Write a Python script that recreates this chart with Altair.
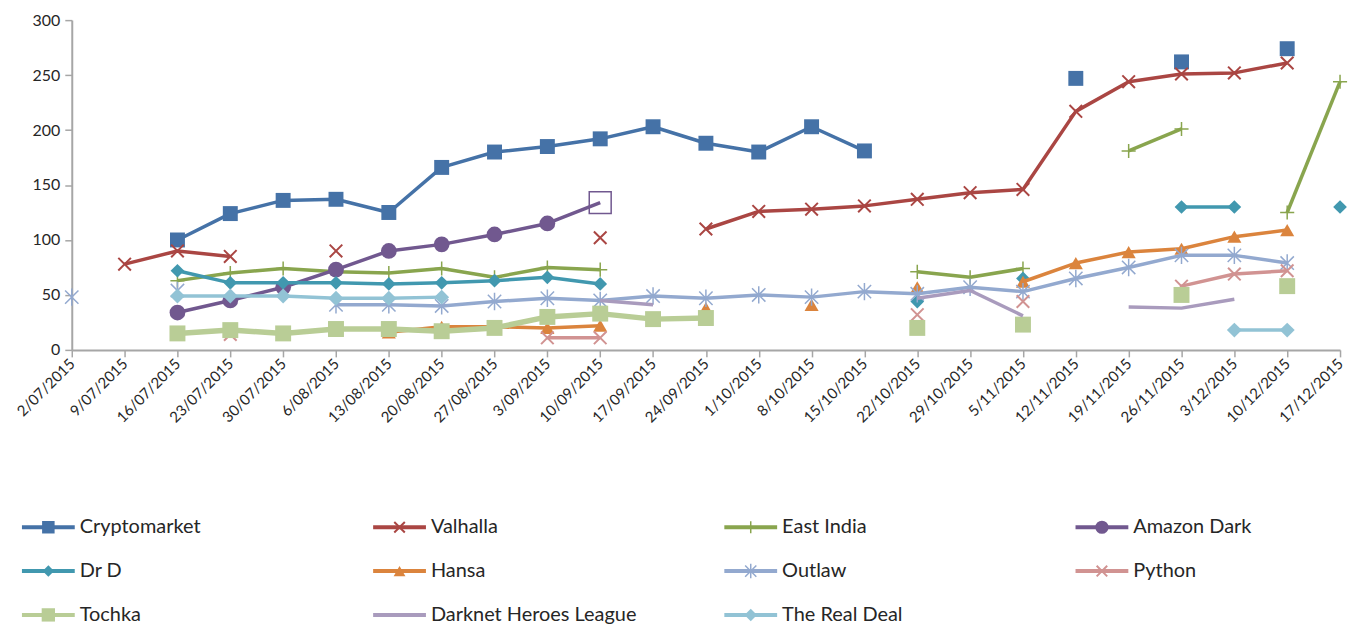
import altair as alt
import pandas as pd

N = None
DATES = ["2/07/2015", "9/07/2015", "16/07/2015", "23/07/2015", "30/07/2015", "6/08/2015",
         "13/08/2015", "20/08/2015", "27/08/2015", "3/09/2015", "10/09/2015", "17/09/2015",
         "24/09/2015", "1/10/2015", "8/10/2015", "15/10/2015", "22/10/2015", "29/10/2015",
         "5/11/2015", "12/11/2015", "19/11/2015", "26/11/2015", "3/12/2015", "10/12/2015",
         "17/12/2015"]

SERIES = ["Cryptomarket", "Valhalla", "East India", "Amazon Dark", "Dr D", "Hansa",
          "Outlaw", "Python", "Tochka", "Darknet Heroes League", "The Real Deal"]
COLORS = ["#4572A7", "#AA4643", "#89A54E", "#71588F", "#4198AF", "#DB843D",
          "#93A9CF", "#D19392", "#B9CD96", "#A99BBD", "#92C3D5"]

CRYPTOMARKET = [N, N, 100, 124, 136, 137, 125, 166, 180, 185, 192, 203, 188, 180, 203, 181,
                N, N, N, 247, N, 262, N, 274, N]
VALHALLA = [N, 78, 90, 85, N, 90, N, N, N, N, 102, N, 110, 126, 128, 131, 137, 143, 146,
            217, 244, 251, 252, 261, N]
EAST_INDIA = [N, N, 63, 70, 74, 71, 70, 74, 66, 75, 73, N, N, N, N, N, 71, 66, 74, N,
              181, 201, N, 125, 244]
AMAZON_DARK = [N, N, 34, 45, 57, 73, 90, 96, 105, 115, 134, N, N, N, N, N, N, N, N, N,
               N, N, N, N, N]
DR_D = [N, N, 72, 61, 61, 61, 60, 61, 63, 66, 60, N, N, N, N, N, 44, N, 65, N, N, 130,
        130, N, 130]
HANSA = [N, N, N, N, N, N, 16, 21, 21, 20, 22, N, 38, N, 41, N, 57, N, 62, 79, 89, 92,
         103, 109, N]
OUTLAW = [48, N, 54, N, N, 41, 41, 40, 44, 47, 45, 49, 47, 50, 48, 53, 51, 57, 53, 65,
          75, 86, 86, 79, N]
PYTHON = [N, N, N, 14, N, N, N, N, N, 11, 11, N, N, N, N, N, 32, N, 44, N, N, 58, 69,
          72, N]
TOCHKA = [N, N, 15, 18, 15, 19, 19, 17, 20, 30, 33, 28, 29, N, N, N, 20, N, 23, N, N,
          50, N, 58, N]
DARKNET = [N, N, N, N, N, N, N, N, N, N, 45, 41, N, N, N, N, 47, 54, 31, N, 39, 38, 46,
           N, N]
REAL_DEAL = [N, N, 49, 49, 49, 47, 47, 48, N, N, N, N, N, N, N, N, N, N, N, N, N, N, 18,
             18, N]
OPEN_MARK_DATE = "10/09/2015"  # Amazon Dark's last point is drawn as an open square

VALUES = dict(zip(SERIES, [CRYPTOMARKET, VALHALLA, EAST_INDIA, AMAZON_DARK, DR_D, HANSA,
                           OUTLAW, PYTHON, TOCHKA, DARKNET, REAL_DEAL]))

X_PATH = "M-1,-1L1,1M-1,1L1,-1"
PLUS_PATH = "M-1,0L1,0M0,-1L0,1"
AST_PATH = "M-1,-1L1,1M-1,1L1,-1M0,-1.3L0,1.3"

STYLE = {
    "Cryptomarket": dict(lw=3.5, shape="square", filled=True, size=225, sw=1, llw=4),
    "Valhalla": dict(lw=3.5, shape=X_PATH, filled=False, size=160, sw=2, llw=4),
    "East India": dict(lw=3.5, shape=PLUS_PATH, filled=False, size=200, sw=1.5, llw=4),
    "Amazon Dark": dict(lw=3.5, shape="circle", filled=True, size=250, sw=1, llw=4),
    "Dr D": dict(lw=3.5, shape="diamond", filled=True, size=190, sw=1, llw=4),
    "Hansa": dict(lw=3.5, shape="triangle-up", filled=True, size=200, sw=1, llw=4),
    "Outlaw": dict(lw=3.5, shape=AST_PATH, filled=False, size=180, sw=1.5, llw=4),
    "Python": dict(lw=3.5, shape=X_PATH, filled=False, size=160, sw=2, llw=4),
    "Tochka": dict(lw=5.5, shape="square", filled=True, size=256, sw=1, llw=6),
    "Darknet Heroes League": dict(lw=3.5, shape=None, filled=False, size=0, sw=0, llw=4),
    "The Real Deal": dict(lw=3.5, shape="diamond", filled=True, size=225, sw=1, llw=4),
}

rows = []
for name in SERIES:
    seg, prev = 0, None
    for d, v in zip(DATES, VALUES[name]):
        if v is None:
            if prev is not None:
                seg += 1
            prev = None
            continue
        rows.append({"series": name, "date": d, "value": v, "seg": f"{name}-{seg}"})
        prev = v
df = pd.DataFrame(rows)

FONT = "Lato"
TXT = "#262626"

x = alt.X("date:O", scale=alt.Scale(type="point", domain=DATES, padding=0),
          axis=alt.Axis(title=None, labelAngle=-45, labelAlign="right", labelBaseline="middle",
                        labelFontSize=15, labelPadding=4, tickSize=7, labelOverlap=False))
y = alt.Y("value:Q", scale=alt.Scale(domain=[0, 300], nice=False),
          axis=alt.Axis(title=None, values=[0, 50, 100, 150, 200, 250, 300], tickSize=7,
                        labelFontSize=16, labelPadding=5))
color = alt.Color("series:N", scale=alt.Scale(domain=SERIES, range=COLORS), legend=None)

main_layers = []
for name in SERIES:
    st = STYLE[name]
    base = alt.Chart().transform_filter(alt.datum.series == name)
    main_layers.append(base.mark_line(strokeWidth=st["lw"], strokeJoin="round")
                       .encode(x=x, y=y, color=color, detail="seg:N"))
    if st["shape"]:
        pts = base
        if name == "Amazon Dark":
            pts = base.transform_filter(alt.datum.date != OPEN_MARK_DATE)
        main_layers.append(pts.mark_point(shape=st["shape"], filled=st["filled"], size=st["size"],
                                          strokeWidth=st["sw"], opacity=1)
                           .encode(x=x, y=y, color=color))
    if name == "Amazon Dark":
        main_layers.append(base.transform_filter(alt.datum.date == OPEN_MARK_DATE)
                           .mark_point(shape="square", filled=False, size=484, strokeWidth=1.5,
                                       opacity=1)
                           .encode(x=x, y=y, color=color))

main = alt.layer(*main_layers, data=df)

# ---- legend (3 rows x 4 columns) ----
leg_df = pd.DataFrame({"series": SERIES,
                       "col": [i % 4 for i in range(len(SERIES))],
                       "row": [i // 4 for i in range(len(SERIES))]})
lx = alt.X("col:Q", scale=alt.Scale(domain=[0, 3], range=[-23.5, 1034]), axis=None)
ly = alt.Y("row:Q", scale=alt.Scale(domain=[0, 2], range=[509, 597]), axis=None)

leg_layers = [
    alt.Chart().mark_rule(xOffset=-26.5, x2Offset=26.5).encode(
        x=lx, x2="col:Q", y=ly, color=color,
        strokeWidth=alt.StrokeWidth("series:N", scale=alt.Scale(domain=SERIES,
                                    range=[STYLE[s]["llw"] for s in SERIES]), legend=None))
]
for name in SERIES:
    st = STYLE[name]
    if st["shape"]:
        leg_layers.append(alt.Chart().transform_filter(alt.datum.series == name)
                          .mark_point(shape=st["shape"], filled=st["filled"],
                                      size=st["size"] * 0.7, strokeWidth=st["sw"], opacity=1)
                          .encode(x=lx, y=ly, color=color))
leg_layers.append(alt.Chart().mark_text(align="left", baseline="middle", dx=31.5, fontSize=20,
                                        font=FONT, color=TXT)
                  .encode(x=lx, y=ly, text="series:N"))
legend = alt.layer(*leg_layers, data=leg_df)

chart = (alt.layer(main, legend)
         .resolve_scale(x="independent", y="independent")
         .properties(width=1273, height=331,
                     padding={"left": 64, "top": 11, "right": 10, "bottom": 285},
                     autosize=alt.AutoSizeParams(type="none"))
         .configure_view(stroke=None)
         .configure_axis(domainColor="#A6A6A6", tickColor="#A6A6A6", domainWidth=2,
                         tickWidth=1.5, labelColor=TXT, labelFont=FONT, grid=False))

chart.save("out.html", embed_options={"renderer": "svg", "actions": False})
